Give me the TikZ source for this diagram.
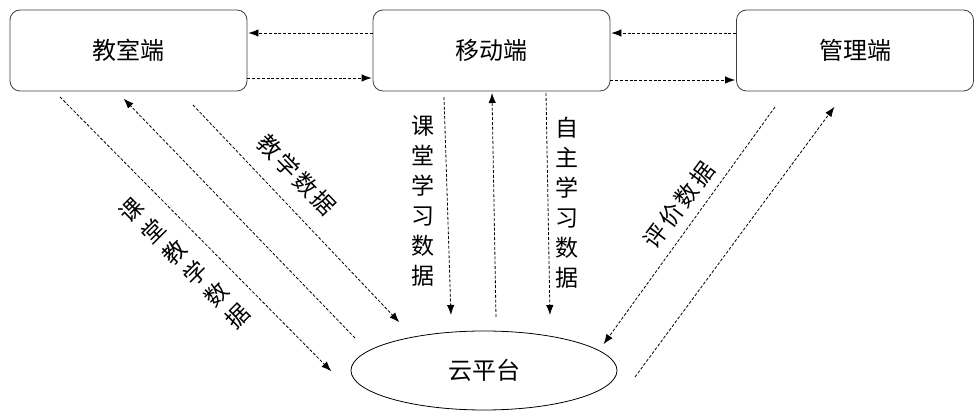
\documentclass[tikz,border=0pt]{standalone}
\usepackage{fontspec}
\newfontfamily\cjk{Noto Sans CJK SC}
\usetikzlibrary{arrows.meta, shapes.geometric}

\begin{document}
\begin{tikzpicture}[x=1pt,y=-1pt,
  term/.style={draw=black!75,line width=0.8pt,rounded corners=10pt,
    minimum width=237pt,minimum height=81pt,font=\cjk\fontsize{24}{24}\selectfont},
  cloud/.style={draw,ellipse,line width=0.8pt,inner sep=0pt,
    minimum width=266pt,minimum height=79pt,font=\cjk\fontsize{24}{24}\selectfont},
  flow/.style={line width=0.8pt,dash pattern=on 3pt off 1.8pt,
    -{Latex[length=10pt,width=7.5pt]},shorten >=1pt},
  tag/.style={font=\cjk\fontsize{23}{30}\selectfont,align=center,inner sep=0pt}]
\useasboundingbox (0,0) rectangle (975,411);
% The three ends and the cloud
\node[term] (cls) at (128.5,50.5) {教室端};
\node[term] (mob) at (491.5,50.5) {移动端};
\node[term] (mgr) at (855,50.5) {管理端};
\node[cloud] (cld) at (484,370.5) {云平台};
% Arrows between the boxes
\draw[flow] (mob.west |- 0,33) -- (cls.east |- 0,33);
\draw[flow] (cls.east |- 0,78) -- (mob.west |- 0,78);
\draw[flow] (mgr.west |- 0,33) -- (mob.east |- 0,33);
\draw[flow] (mob.east |- 0,80) -- (mgr.west |- 0,80);
% Free ends of the arrows on the left
\coordinate (a) at (60,97);
\coordinate (b) at (332,372);
\coordinate (c) at (355,338);
\coordinate (d) at (123,98);
\coordinate (e) at (193,105);
\coordinate (f) at (400,323);
% Free ends of the arrows in the middle
\coordinate (g) at (444,97);
\coordinate (h) at (451,316);
\coordinate (i) at (496,317);
\coordinate (j) at (492,92);
\coordinate (k) at (546,93);
\coordinate (l) at (550,316);
% Free ends of the arrows on the right
\coordinate (m) at (775,107);
\coordinate (n) at (603,345);
\coordinate (o) at (635,377);
\coordinate (p) at (835,106);
% Draw the arrows
\draw[flow] (a) -- (b);
\draw[flow] (c) -- (d);
\draw[flow] (e) -- (f);
\draw[flow] (g) -- (h);
\draw[flow] (i) -- (j);
\draw[flow] (k) -- (l);
\draw[flow] (m) -- (n);
\draw[flow] (o) -- (p);
% Labels of the data
\node[tag,rotate=45] (t1) at (185,263) {课\\堂\\教\\学\\数\\据};
\node[tag,rotate=-46] (t2) at (297,175) {教\hspace{3pt}学\hspace{3pt}数\hspace{3pt}据};
\node[tag] (t3) at (423,201) {课\\堂\\学\\习\\数\\据};
\node[tag] (t4) at (567,203) {自\\主\\学\\习\\数\\据};
\node[tag,rotate=53] (t5) at (679,205) {评\hspace{3pt}价\hspace{3pt}数\hspace{3pt}据};
\end{tikzpicture}
\end{document}
